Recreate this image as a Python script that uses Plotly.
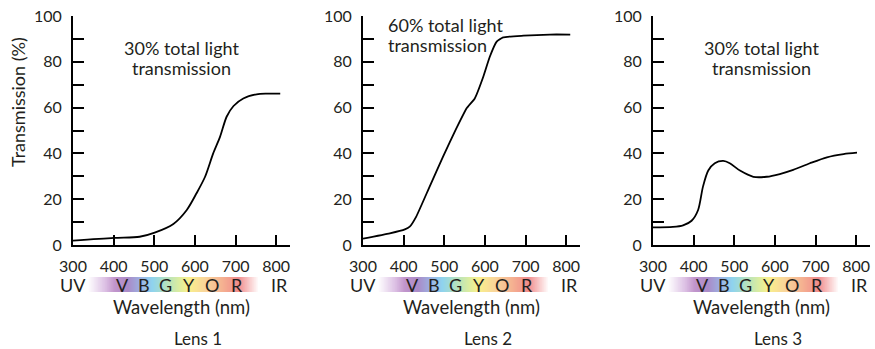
import numpy as np
import plotly.graph_objects as go

# ---------------- data ----------------
lens1_nm = [300, 401, 464, 501, 547, 580, 604, 625, 645, 662, 678, 695, 719, 752, 777, 810]
lens1_t = [1.9, 3.1, 3.6, 5.4, 9.2, 15.3, 22.6, 29.8, 40.0, 47.3, 56.0, 60.7, 64.0, 65.8, 66.1, 66.1]

lens2_nm = [300, 366, 403, 415, 431, 464, 497, 530, 555, 575, 596, 612, 629, 645, 695, 760, 810]
lens2_t = [2.8, 5.1, 6.8, 8.0, 12.4, 25.5, 38.6, 51.0, 59.7, 64.0, 73.5, 82.2, 88.8, 90.7, 91.4, 91.9, 91.9]

lens3_nm = [300, 349, 374, 395, 411, 423, 436, 452, 473, 489, 514, 547, 580, 612, 645, 686, 728, 769, 802]
lens3_t = [7.7, 7.9, 8.6, 10.6, 15.3, 25.5, 32.5, 35.7, 36.7, 35.7, 32.5, 29.8, 29.8, 31.0, 32.8, 35.7, 38.3, 39.7, 40.3]

lens_names = ["Lens 1", "Lens 2", "Lens 3"]
note_line1 = ["30% total light", "60% total light", "30% total light"]
note_line2 = ["transmission", "transmission", "transmission"]

x_ticks = [300, 400, 500, 600, 700, 800]
band_letters = ["V", "B", "G", "Y", "O", "R"]
band_letter_nm = [421, 475, 527, 586, 642, 704]

spectrum_nm = [337, 379, 403, 435, 472, 495, 527, 559, 583, 625, 667, 706, 756]
spectrum_col = ["#ffffff", "#dcc0e4", "#c194cb", "#a98bc8", "#9ab8e6", "#8fd3ee", "#b0e0c2",
                "#d8eca2", "#f9f08c", "#f9d49a", "#f5b191", "#f08b8b", "#ffffff"]

# ---------------- layout helpers ----------------
W, H = 875, 349
TXT = "#231f20"
FONT = "Lato"

def px_x(p):
    return p / W

def px_y(p):
    return 1 - p / H

axis_left = [73, 363, 653]
axis_right = [290, 580, 870]
plot_top, plot_bot = 16, 245
band_top, band_bot = 277, 292

fig = go.Figure()
series = [(lens1_nm, lens1_t, 0.8), (lens2_nm, lens2_t, 0.4), (lens3_nm, lens3_t, 0.8)]

lo, hi = spectrum_nm[0], spectrum_nm[-1]
cscale = [[(n - lo) / (hi - lo), c] for n, c in zip(spectrum_nm, spectrum_col)]
band_x = np.arange(lo, hi + 1, 1)


def ann(x, y, text, size, xref, xanchor="center", angle=0):
    return dict(x=x, y=y, xref=xref, yref="paper", text=text, showarrow=False,
                xanchor=xanchor, yanchor="middle", textangle=angle,
                font=dict(family=FONT, size=size, color=TXT))


annotations = []
for i in range(3):
    xs = "" if i == 0 else str(i + 1)
    yb = str(i + 4)
    xn, yt, sm = series[i]
    fig.add_trace(go.Scatter(x=xn, y=yt, mode="lines",
                             line=dict(color="black", width=1.8, shape="spline", smoothing=sm),
                             xaxis="x" + xs, yaxis="y" + xs, showlegend=False, hoverinfo="skip"))
    fig.add_trace(go.Heatmap(x=band_x, y=[0], z=[band_x.tolist()], colorscale=cscale,
                             zmin=lo, zmax=hi, showscale=False, hoverinfo="skip",
                             xaxis="x" + xs, yaxis="y" + yb))
    dom_x = [px_x(axis_left[i]), px_x(axis_right[i])]
    fig.update_layout(**{
        "xaxis" + xs: dict(domain=dom_x, range=[300, 834], anchor="y" + xs, automargin=False,
                           showline=True, linewidth=2, linecolor="black",
                           ticks="inside", ticklen=10, tickwidth=1.6, tickcolor="black",
                           tickvals=x_ticks, showgrid=False, zeroline=False,
                           tickfont=dict(family=FONT, size=16, color=TXT),
                           ticklabelstandoff=6, fixedrange=True),
        "yaxis" + xs: dict(domain=[px_y(plot_bot), px_y(plot_top)], range=[0, 100],
                           anchor="x" + xs, automargin=False, showline=True, linewidth=2,
                           linecolor="black",
                           ticks="inside", ticklen=11, tickwidth=1.6, tickcolor="black",
                           dtick=20, tick0=0, showgrid=False, zeroline=False,
                           minor=dict(dtick=10, ticks="inside", ticklen=11, tickwidth=1.6,
                                      tickcolor="black", showgrid=False),
                           tickfont=dict(family=FONT, size=16, color=TXT),
                           ticklabelstandoff=6, fixedrange=True),
        "yaxis" + yb: dict(domain=[px_y(band_bot), px_y(band_top)], range=[-0.5, 0.5],
                           anchor="x" + xs, visible=False, automargin=False, fixedrange=True),
    })
    xr = "x" + xs
    for L, n in zip(band_letters, band_letter_nm):
        annotations.append(ann(n, px_y(285), L, 18, xr))
    annotations.append(ann(300, px_y(285), "UV", 18, xr))
    annotations.append(ann(808, px_y(285), "IR", 18, xr))
    annotations.append(ann(568, px_y(307), "Wavelength (nm)", 18.5, xr))
    annotations.append(ann(608, px_y(338), lens_names[i], 17, xr))
    if i == 1:
        nx, anch, l1y, l2y = 356, "left", 25, 45
    else:
        nx, anch, l1y, l2y = 568, "center", 48, 68
    annotations.append(ann(nx, px_y(l1y), note_line1[i], 18, xr, anch))
    annotations.append(ann(nx, px_y(l2y), note_line2[i], 18, xr, anch))

annotations.append(ann(px_x(18), px_y(102), "Transmission (%)", 18, "paper", "center", -90))

fig.update_layout(width=W, height=H, margin=dict(l=0, r=0, t=0, b=0, autoexpand=False),
                  paper_bgcolor="white", plot_bgcolor="white",
                  annotations=annotations, showlegend=False)

fig.write_html("out.html", config={"displayModeBar": False},
               post_script="document.body.style.margin='0';document.body.style.overflow='hidden';")
